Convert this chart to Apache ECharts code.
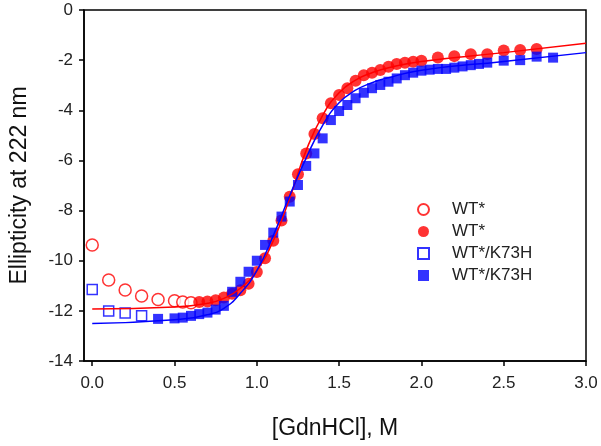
<!DOCTYPE html>
<html>
<head>
<meta charset="utf-8">
<script src="https://cdn.jsdelivr.net/npm/echarts@6/dist/echarts.min.js"></script>
<style>
  html, body { margin: 0; padding: 0; background: #fff; }
  #chart { width: 601px; height: 446px; }
</style>
</head>
<body>
<div id="chart"></div>
<script>
// 刻度
const xTicks = [0, 0.5, 1.0, 1.5, 2.0, 2.5, 3.0]

// WT* 空心点 (低浓度)
const wtOpenX = [0, 0.1, 0.2, 0.3, 0.4, 0.5, 0.55, 0.6]
const wtOpenY = [-9.37, -10.77, -11.17, -11.41, -11.55, -11.6, -11.65, -11.68]

// WT* 实心点
const wtX = [0.65, 0.7, 0.75, 0.8, 0.85, 0.9, 0.95, 1.0, 1.05, 1.1, 1.15, 1.2, 1.25, 1.3, 1.35, 1.4, 1.45, 1.5,
  1.55, 1.6, 1.65, 1.7, 1.75, 1.8, 1.85, 1.9, 1.95, 2.0, 2.1, 2.2, 2.3, 2.4, 2.5, 2.6, 2.7]
const wtY = [-11.65, -11.63, -11.58, -11.47, -11.32, -11.18, -10.92, -10.45, -9.9, -9.2, -8.4, -7.45, -6.55, -5.72,
  -4.95, -4.32, -3.72, -3.39, -3.12, -2.82, -2.6, -2.5, -2.39, -2.26, -2.15, -2.1, -2.06, -2.02, -1.89, -1.84,
  -1.76, -1.76, -1.62, -1.6, -1.56]

// WT*/K73H 空心点
const k73OpenX = [0, 0.1, 0.2, 0.3]
const k73OpenY = [-11.15, -12.01, -12.09, -12.2]

// WT*/K73H 实心点
const k73X = [0.4, 0.5, 0.55, 0.6, 0.65, 0.7, 0.75, 0.8, 0.85, 0.9, 0.95, 1.0, 1.05, 1.1, 1.15, 1.2, 1.25, 1.3,
  1.35, 1.4, 1.45, 1.5, 1.55, 1.6, 1.65, 1.7, 1.75, 1.8, 1.85, 1.9, 1.95, 2.0, 2.05, 2.1, 2.15, 2.2, 2.25, 2.3,
  2.35, 2.4, 2.5, 2.6, 2.7, 2.8]
const k73Y = [-12.32, -12.3, -12.27, -12.2, -12.13, -12.07, -11.95, -11.8, -11.24, -10.84, -10.44, -10.0, -9.37,
  -8.88, -8.24, -7.64, -6.98, -6.22, -5.72, -5.12, -4.39, -4.03, -3.79, -3.52, -3.3, -3.12, -2.99, -2.86, -2.73,
  -2.6, -2.5, -2.42, -2.38, -2.35, -2.35, -2.3, -2.25, -2.2, -2.15, -2.1, -2.02, -2.0, -1.86, -1.9]

// 拟合曲线
const wtFitX = [0, 0.5, 0.7, 0.8, 0.9, 1.0, 1.1, 1.2, 1.3, 1.4, 1.5, 1.6, 1.7, 1.8, 2.0, 2.5, 3.0]
const wtFitY = [-11.93, -11.85, -11.7, -11.5, -11.1, -10.4, -9.2, -7.5, -5.6, -4.2, -3.3, -2.8, -2.5, -2.3, -2.05, -1.7, -1.33]
const k73FitX = [0, 0.5, 0.7, 0.8, 0.9, 1.0, 1.1, 1.2, 1.3, 1.4, 1.5, 1.6, 1.7, 1.8, 2.0, 2.5, 3.0]
const k73FitY = [-12.5, -12.35, -12.15, -11.9, -11.3, -10.4, -9.0, -7.4, -5.9, -4.6, -3.7, -3.2, -2.9, -2.7, -2.4, -2.05, -1.7]

const legendNames = ['WT*', 'WT*', 'WT*/K73H', 'WT*/K73H']

const RED = '#ff0000'
const BLUE = '#0000ff'
const FONT = 'Arial, "Liberation Sans", sans-serif'

function pairs (xs, ys) {
  return xs.map((x, i) => [x, ys[i]])
}

let chart = echarts.init(document.getElementById('chart'))

chart.setOption({
  animation: false,
  grid: {
    left: 84,
    right: 15,
    top: 10,
    bottom: 85,
    show: true,
    borderColor: '#000',
    borderWidth: 1.5
  },
  legend: {
    orient: 'vertical',
    left: 412,
    top: 196,
    itemWidth: 11,
    itemHeight: 11,
    itemGap: 5,
    data: ['s0', 's1', 's2', 's3'],
    formatter: name => legendNames[Number(name.slice(1))],
    textStyle: {
      fontFamily: FONT,
      fontSize: 17,
      lineHeight: 17,
      color: '#222',
      padding: [0, 0, 0, 18]
    }
  },
  xAxis: {
    type: 'value',
    min: -0.05,
    max: 3.0,
    name: '[GdnHCl], M',
    nameLocation: 'middle',
    nameGap: 56,
    nameTextStyle: { fontFamily: FONT, fontSize: 23, color: '#111' },
    axisLine: { onZero: false, lineStyle: { color: '#000', width: 1.5 } },
    axisTick: { customValues: xTicks, length: 5, lineStyle: { color: '#000', width: 1.5 } },
    axisLabel: {
      customValues: xTicks,
      formatter: v => v.toFixed(1),
      fontFamily: FONT,
      fontSize: 17,
      color: '#222',
      margin: 14
    },
    splitLine: { show: false }
  },
  yAxis: {
    type: 'value',
    min: -14,
    max: 0,
    interval: 2,
    name: 'Ellipticity at 222 nm',
    nameLocation: 'middle',
    nameGap: 53,
    nameRotate: 90,
    nameTextStyle: { fontFamily: FONT, fontSize: 23, color: '#111' },
    axisLine: { onZero: false, lineStyle: { color: '#000', width: 1.5 } },
    axisTick: { length: 5, lineStyle: { color: '#000', width: 1.5 } },
    axisLabel: { fontFamily: FONT, fontSize: 17, color: '#222', margin: 11 },
    splitLine: { show: false }
  },
  series: [
    {
      name: 's0',
      type: 'scatter',
      symbol: 'circle',
      symbolSize: 12,
      data: pairs(wtOpenX, wtOpenY),
      itemStyle: { color: '#fff', borderColor: RED, borderWidth: 1.5 }
    },
    {
      name: 's1',
      type: 'scatter',
      symbol: 'circle',
      symbolSize: 12,
      data: pairs(wtX, wtY),
      itemStyle: { color: RED }
    },
    {
      name: 's2',
      type: 'scatter',
      symbol: 'rect',
      symbolSize: 10,
      data: pairs(k73OpenX, k73OpenY),
      itemStyle: { color: '#fff', borderColor: BLUE, borderWidth: 1.5 }
    },
    {
      name: 's3',
      type: 'scatter',
      symbol: 'rect',
      symbolSize: 10,
      data: pairs(k73X, k73Y),
      itemStyle: { color: BLUE }
    },
    {
      name: 'fitWT',
      type: 'line',
      smooth: true,
      showSymbol: false,
      data: pairs(wtFitX, wtFitY),
      lineStyle: { color: RED, width: 1.5 },
      z: 3
    },
    {
      name: 'fitK73',
      type: 'line',
      smooth: true,
      showSymbol: false,
      data: pairs(k73FitX, k73FitY),
      lineStyle: { color: BLUE, width: 1.5 },
      z: 3
    }
  ]
})
</script>
</body>
</html>
